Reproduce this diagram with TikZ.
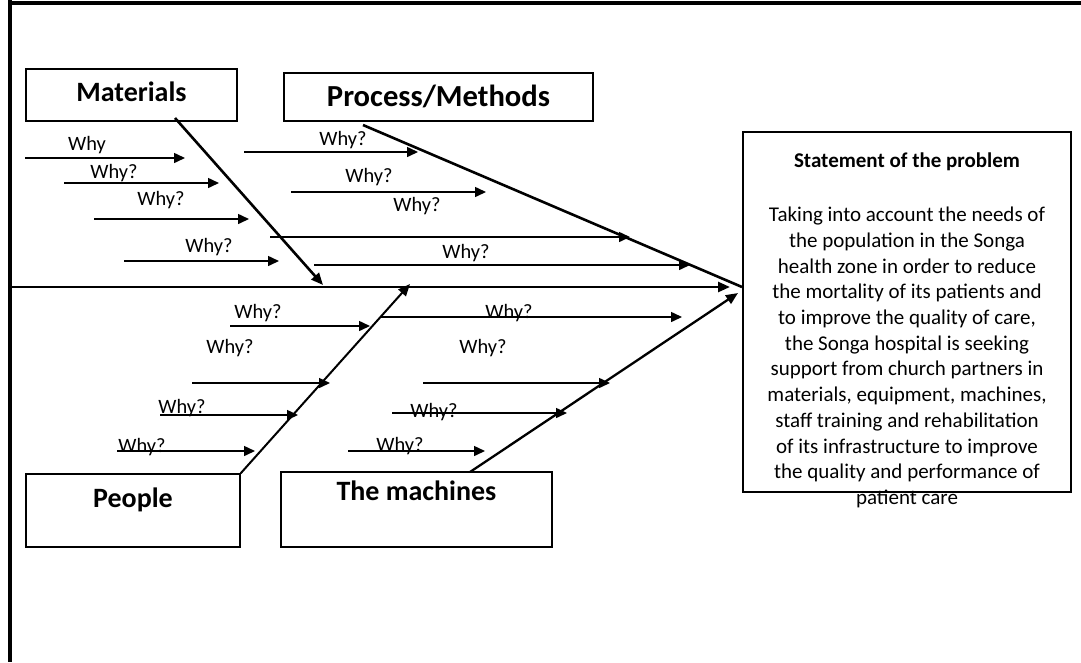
\documentclass[tikz,border=0pt]{standalone}
\usepackage{fontspec}
\setmainfont{Carlito}
\usepackage{tikz}
\usetikzlibrary{arrows.meta, positioning}
\newcommand{\whyFont}{\fontsize{20.4}{24}\selectfont}
\newcommand{\causeFont}{\bfseries\fontsize{28}{34}\selectfont}
\newcommand{\problemFont}{\fontsize{21}{25.7}\selectfont}
\tikzstyle{fishFrame} = [line width=4pt]
\tikzstyle{spineLine} = [line width=2.6pt, -{Triangle[length=12pt,width=10pt]}]
\tikzstyle{boneLine} = [line width=2.6pt]
\tikzstyle{whyLine} = [line width=1.5pt, -{Triangle[length=11pt,width=10pt]}]
\tikzstyle{whyText} = [font=\whyFont, inner sep=0pt]
\tikzstyle{causeBox} = [draw, line width=1.2pt, inner sep=0pt]
\tikzstyle{causeText} = [font=\causeFont, inner sep=0pt]

\begin{document}
\begin{tikzpicture}[x=1pt, y=-1pt]
  \useasboundingbox (0,0) rectangle (1081,662);
  % frame
  \draw [fishFrame] (10,0) -- (10,662);
  \draw [fishFrame] (8,3) -- (1081,3);

  % cause boxes
  \node [causeBox, minimum width=211, minimum height=52] (materials) at (131.5,95) {};
  \node [causeText, below=13pt of materials.north] (materialsText) {Materials};
  \node [causeBox, minimum width=309, minimum height=48] (process) at (438.5,97) {};
  \node [causeText, font=\bfseries\fontsize{30.6}{36}\selectfont, below=12pt of process.north] (processText) {Process/Methods};
  \node [causeBox, minimum width=214, minimum height=73] (people) at (133,510.5) {};
  \node [causeText, below=14pt of people.north] (peopleText) {People};
  \node [causeBox, minimum width=271, minimum height=75] (machines) at (416.5,509.5) {};
  \node [causeText, below=9pt of machines.north] (machinesText) {The machines};

  % problem statement
  \node [causeBox, minimum width=328, minimum height=360] (problem) at (907,312) {};
  \node [font=\bfseries\fontsize{21}{25.7}\selectfont, inner sep=0pt] (problemTitle) at (907,162) {Statement of the problem};
  \node [font=\problemFont, inner sep=0pt, align=center, anchor=north] (problemText) at (907,207)
    {Taking into account the needs of\\ the population in the Songa\\ health zone in order to reduce\\
     the mortality of its patients and\\ to improve the quality of care,\\ the Songa hospital is seeking\\
     support from church partners in\\ materials, equipment, machines,\\ staff training and rehabilitation\\
     of its infrastructure to improve\\ the quality and performance of\\ patient care};

  % spine and bones
  \coordinate (spineTail) at (10,287);
  \coordinate (spineHead) at (730,287);
  \draw [spineLine] (spineTail) -- (spineHead);
  \coordinate (materialsTail) at (175,118);
  \coordinate (materialsHead) at (323,285);
  \draw [spineLine] (materialsTail) -- (materialsHead);
  \coordinate (processTail) at (363,125);
  \coordinate (processHead) at (742,287);
  \draw [boneLine] (processTail) -- (processHead);
  \coordinate (peopleHead) at (410,284);
  \draw [spineLine, line width=2pt] (people.north east) -- (peopleHead);
  \coordinate (machinesTail) at (470,472);
  \coordinate (machinesHead) at (738,293);
  \draw [spineLine, line width=2.3pt] (machinesTail) -- (machinesHead);

  % why arrows
  \foreach \whyFrom/\whyTo/\whyY [count=\whyNum] in {25/185/158, 64/219/183, 94/249/219, 124/279/261,
      244/418/152, 291/486/192, 270/630/237, 314/690/265,
      230/370/326, 192/330/383, 160/298/415, 117/255/451,
      380/682/317, 423/610/383, 392/567/413, 348/485/451} {
    \coordinate (whyStart\whyNum) at (\whyFrom,\whyY);
    \coordinate (whyEnd\whyNum) at (\whyTo,\whyY);
    \draw [whyLine] (whyStart\whyNum) -- (whyEnd\whyNum);
  }

  % why labels
  \node [whyText] (why0) at (87,145) {Why};
  \foreach \labelX/\labelY [count=\labelNum] in {114/173, 161/200, 209/247, 343/140, 369/177, 417/206, 466/253,
      258/313, 230/348, 182/408, 142/447, 509/313, 483/348, 434/412, 400/446} {
    \node [whyText] (why\labelNum) at (\labelX,\labelY) {Why?};
  }
\end{tikzpicture}
\end{document}
